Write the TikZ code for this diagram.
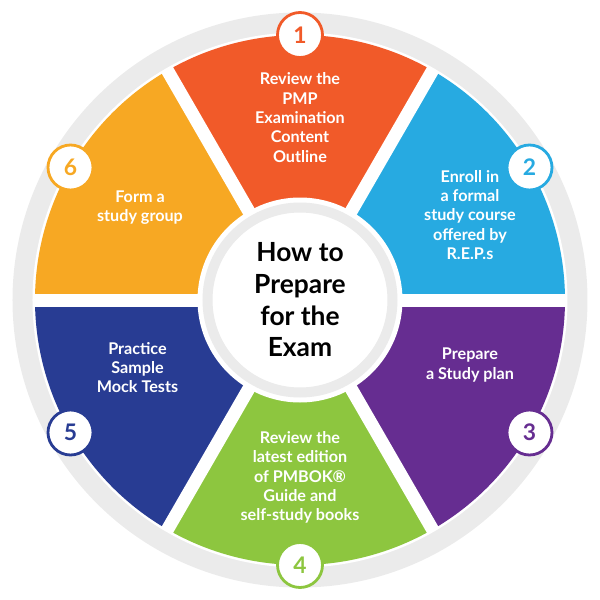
\documentclass[tikz,border=0pt]{standalone}
\usepackage{fontspec}
\setmainfont{Lato}
\begin{document}
\begin{tikzpicture}
\tikzset{
  step text/.style={text=white,font=\bfseries\fontsize{9.2}{11}\selectfont,align=center},
  num circle/.style={circle,fill=white,draw=#1,line width=1.6pt,minimum size=0.9cm,text=#1,font=\bfseries\fontsize{13}{13}\selectfont}
}
\definecolor{cOne}{HTML}{F15A29}
\definecolor{cTwo}{HTML}{27AAE1}
\definecolor{cThree}{HTML}{662D91}
\definecolor{cFour}{HTML}{8DC63F}
\definecolor{cFive}{HTML}{283C93}
\definecolor{cSix}{HTML}{F7A823}
\definecolor{ringgray}{HTML}{EBEBEB}
\useasboundingbox (-6,-6) rectangle (6,6);
% outer ring
\fill[ringgray] (0,0) circle (5.75);
\fill[white] (0,0) circle (5.35);
% sectors
\foreach \c/\a in {cOne/90,cTwo/30,cThree/-30,cFour/-90,cFive/-150,cSix/150}
  \fill[\c] (\a-30:5.3) arc (\a-30:\a+30:5.3) -- (0,0) -- cycle;
\foreach \a in {0,60,...,300}
  \draw[white,line width=0.26cm] (0,0) -- (\a:5.34);
% centre
\fill[white] (0,0) circle (2.05);
\draw[ringgray,line width=0.2cm] (0,0) circle (1.85);
\node[font=\bfseries\fontsize{15}{18}\selectfont,align=center] (centre) at (0,0) {How to\\Prepare\\for the\\Exam};
% texts
\node[step text] (t1) at (0,3.65) {Review the\\PMP\\Examination\\Content\\Outline};
\node[step text] (t2) at (3.4,1.7) {Enroll in\\a formal\\study course\\offered by\\R.E.P.s};
\node[step text] (t3) at (3.4,-1.3) {Prepare\\a Study plan};
\node[step text] (t4) at (0,-3.55) {Review the\\latest edition\\of PMBOK®\\Guide and\\self-study books};
\node[step text] (t5) at (-3.25,-1.35) {Practice\\Sample\\Mock Tests};
\node[step text] (t6) at (-3.2,1.85) {Form a\\study group};
% numbers
\node[num circle=cOne] (n1) at (90:5.3) {1};
\node[num circle=cTwo] (n2) at (30:5.3) {2};
\node[num circle=cThree] (n3) at (-30:5.3) {3};
\node[num circle=cFour] (n4) at (-90:5.3) {4};
\node[num circle=cFive] (n5) at (-150:5.3) {5};
\node[num circle=cSix] (n6) at (150:5.3) {6};
\end{tikzpicture}
\end{document}
